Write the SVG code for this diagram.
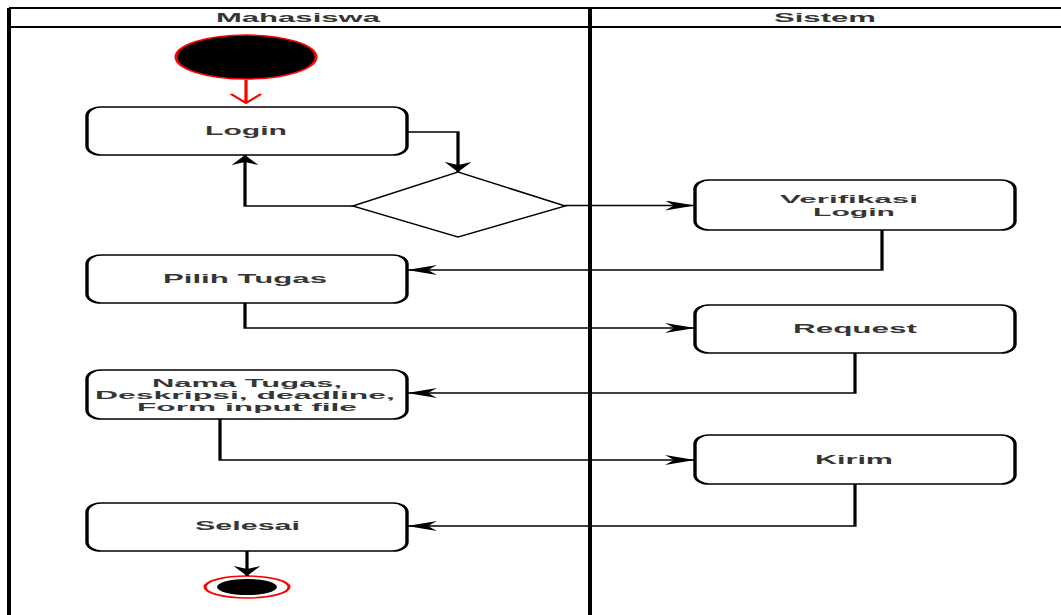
<svg xmlns="http://www.w3.org/2000/svg" width="1061" height="615" viewBox="0 0 1061 615">
  <style>
    .lane { fill: none; stroke: #000; stroke-width: 2; }
    .act { fill: #fff; stroke: #000; stroke-width: 1.7; }
    .dec { fill: #fff; stroke: #000; stroke-width: 1.4; }
    .flow { fill: none; stroke: #000; stroke-width: 1.6; }
    .lbl { font-family: "Liberation Sans", Arial, sans-serif; font-weight: bold; font-size: 12.5px; fill: #363636; text-anchor: middle; }
    .hdr { font-size: 12px; }
    .sm { font-size: 11px; }
  </style>
  <defs>
    <marker id="arrowH" markerUnits="userSpaceOnUse" markerWidth="15" markerHeight="10" refX="15" refY="5" orient="auto">
      <path d="M0 0 L15 5 L0 10 L4.5 5 Z" fill="#000"/>
    </marker>
    <marker id="arrowV" markerUnits="userSpaceOnUse" markerWidth="10" markerHeight="13.5" refX="10" refY="6.75" orient="auto">
      <path d="M0 0 L10 6.75 L0 13.5 L3 6.75 Z" fill="#000"/>
    </marker>
  </defs>
  <rect width="1061" height="615" fill="#fff"/>
  <!-- drawing space is stretched 2x horizontally -->
  <g transform="scale(2,1)">
    <g id="swimlanes">
      <path class="lane" d="M4.5 8 H530.5 M4.5 27 H530.5 M4.5 8 V615 M295 8 V615"/>
      <text class="lbl hdr" x="149" y="22" textLength="82" lengthAdjust="spacingAndGlyphs">Mahasiswa</text>
      <text class="lbl hdr" x="412.5" y="22" textLength="51" lengthAdjust="spacingAndGlyphs">Sistem</text>
    </g>

    <g id="start">
      <ellipse cx="123" cy="57" rx="35" ry="22" fill="#000" stroke="#f00" stroke-width="1.5"/>
      <path d="M123 80 V103 M115.5 94 L123 103 L130.5 94" fill="none" stroke="#f00" stroke-width="1.6"/>
    </g>

    <g id="login">
      <rect class="act" x="43.5" y="107" width="160" height="48" rx="7" ry="9"/>
      <text class="lbl" x="123" y="135" textLength="41" lengthAdjust="spacingAndGlyphs">Login</text>
    </g>

    <g id="decision">
      <polygon class="dec" points="229,172 282.5,206 229,237 176.5,206"/>
    </g>

    <g id="verifikasi-login">
      <rect class="act" x="347.5" y="180" width="160" height="50" rx="7" ry="9"/>
      <text class="lbl sm" x="424.5" y="203.5" textLength="69" lengthAdjust="spacingAndGlyphs">Verifikasi</text>
      <text class="lbl sm" x="427" y="216.5" textLength="41" lengthAdjust="spacingAndGlyphs">Login</text>
    </g>

    <g id="pilih-tugas">
      <rect class="act" x="43.5" y="255" width="160" height="48" rx="7" ry="9"/>
      <text class="lbl" x="122.5" y="283" textLength="82" lengthAdjust="spacingAndGlyphs">Pilih Tugas</text>
    </g>

    <g id="request">
      <rect class="act" x="347.5" y="305" width="160" height="48" rx="7" ry="9"/>
      <text class="lbl" x="427.5" y="333" textLength="62" lengthAdjust="spacingAndGlyphs">Request</text>
    </g>

    <g id="detail-tugas">
      <rect class="act" x="43.5" y="370" width="160" height="49" rx="7" ry="9"/>
      <text class="lbl sm" x="123.5" y="387" textLength="95" lengthAdjust="spacingAndGlyphs">Nama Tugas,</text>
      <text class="lbl sm" x="122.5" y="399" textLength="150" lengthAdjust="spacingAndGlyphs">Deskripsi, deadline,</text>
      <text class="lbl sm" x="123.5" y="411" textLength="110" lengthAdjust="spacingAndGlyphs">Form input file</text>
    </g>

    <g id="kirim">
      <rect class="act" x="347.5" y="435" width="160" height="49" rx="7" ry="9"/>
      <text class="lbl" x="427" y="464" textLength="39" lengthAdjust="spacingAndGlyphs">Kirim</text>
    </g>

    <g id="selesai">
      <rect class="act" x="43.5" y="503" width="160" height="48" rx="7" ry="9"/>
      <text class="lbl" x="123.75" y="530" textLength="52.5" lengthAdjust="spacingAndGlyphs">Selesai</text>
    </g>

    <g id="end">
      <ellipse cx="123.5" cy="587" rx="21" ry="11" fill="#fff" stroke="#f00" stroke-width="1.5"/>
      <ellipse cx="123.5" cy="587" rx="15" ry="8" fill="#000"/>
    </g>

    <g id="connectors">
      <path class="flow" d="M203.5 132 H229 V172" marker-end="url(#arrowV)"/>
      <path class="flow" d="M176.5 206 H122.5 V155" marker-end="url(#arrowV)"/>
      <path class="flow" d="M282.5 205.5 H347.5" marker-end="url(#arrowH)"/>
      <path class="flow" d="M441 230 V270 H203.5" marker-end="url(#arrowH)"/>
      <path class="flow" d="M122.5 303 V328 H347.5" marker-end="url(#arrowH)"/>
      <path class="flow" d="M427.5 353 V393 H203.5" marker-end="url(#arrowH)"/>
      <path class="flow" d="M110 419 V460 H347.5" marker-end="url(#arrowH)"/>
      <path class="flow" d="M427.5 484 V526 H203.5" marker-end="url(#arrowH)"/>
      <path class="flow" d="M123.5 551 V576" marker-end="url(#arrowV)"/>
    </g>
  </g>
</svg>
